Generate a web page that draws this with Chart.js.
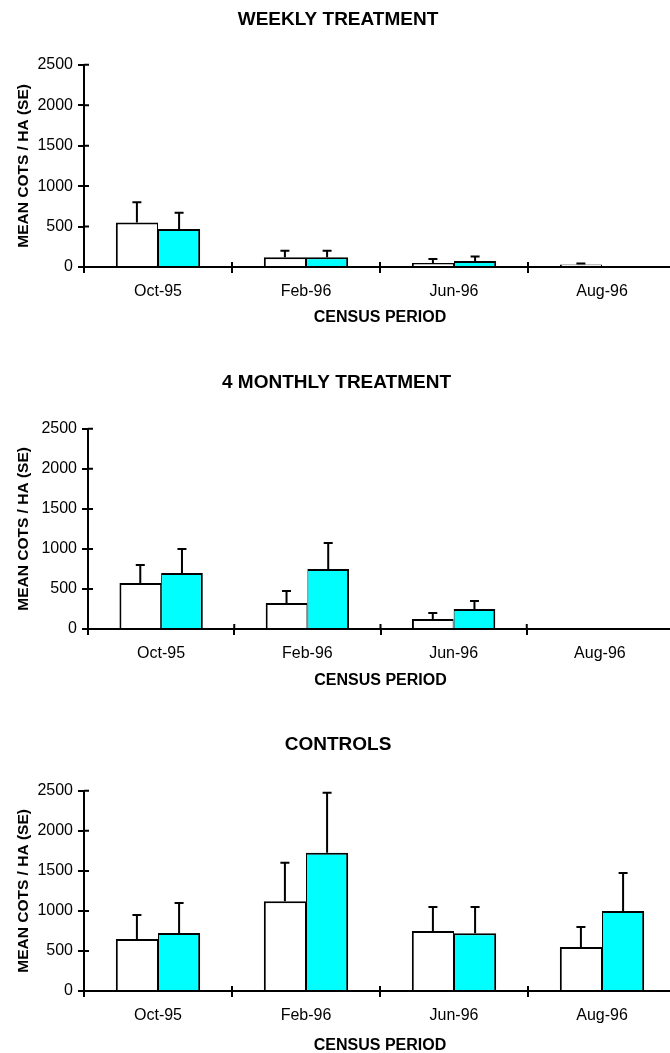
<!DOCTYPE html>
<html>
<head>
<meta charset="utf-8">
<script src="https://cdn.jsdelivr.net/npm/chart.js@4/dist/chart.umd.min.js"></script>
<style>
  html, body { margin: 0; padding: 0; background: #fff; overflow: hidden; width: 670px; height: 1053px; }
  canvas { position: absolute; left: 0; }
</style>
</head>
<body>
<canvas id="weekly"></canvas>
<canvas id="monthly"></canvas>
<canvas id="controls"></canvas>
<script>
// Census periods shared by all three panels
const periods = ['Oct-95', 'Feb-96', 'Jun-96', 'Aug-96'];
const yTicks = [0, 500, 1000, 1500, 2000, 2500];

// Weekly treatment: mean COTS per hectare and standard errors
const weeklyOpen = [550, 120, 50, 30];
const weeklyOpenSE = [250, 80, 50, 12];
const weeklyCyan = [470, 120, 75, null];
const weeklyCyanSE = [200, 80, 55, null];

// 4 monthly treatment
const monthlyOpen = [575, 325, 125, null];
const monthlyOpenSE = [225, 150, 75, null];
const monthlyCyan = [700, 750, 250, null];
const monthlyCyanSE = [300, 325, 100, null];

// Controls
const controlOpen = [650, 1120, 750, 550];
const controlOpenSE = [300, 480, 300, 250];
const controlCyan = [725, 1725, 720, 1000];
const controlCyanSE = [375, 750, 330, 475];

const FONT = "'Liberation Sans', Arial, sans-serif";

// Upward-only standard error whiskers with a short cap
const errorBars = {
  id: 'errorBars',
  afterDatasetsDraw(chart) {
    const ctx = chart.ctx;
    const y = chart.scales.y;
    ctx.save();
    ctx.strokeStyle = '#000';
    ctx.lineWidth = 2;
    chart.data.datasets.forEach((ds, di) => {
      const meta = chart.getDatasetMeta(di);
      meta.data.forEach((bar, i) => {
        const v = ds.data[i], se = ds.se[i];
        if (v == null || se == null) return;
        const top = y.getPixelForValue(v + se);
        ctx.beginPath();
        ctx.moveTo(bar.x, bar.y);
        ctx.lineTo(bar.x, top);
        ctx.moveTo(bar.x - 4.5, top);
        ctx.lineTo(bar.x + 4.5, top);
        ctx.stroke();
      });
    });
    ctx.restore();
  }
};

// Tick marks that cross each axis line (the inner half of every tick)
const innerTicks = {
  id: 'innerTicks',
  afterDraw(chart) {
    const ctx = chart.ctx;
    const x = chart.scales.x, y = chart.scales.y;
    const area = chart.chartArea;
    ctx.save();
    ctx.strokeStyle = '#000';
    ctx.lineWidth = 2;
    ctx.beginPath();
    y.ticks.forEach((t, i) => {
      const py = y.getPixelForTick(i);
      ctx.moveTo(area.left, py);
      ctx.lineTo(area.left + 5, py);
    });
    for (let i = 0; i <= periods.length; i++) {
      const px = x.getPixelForValue(i - 0.5);
      ctx.moveTo(px, area.bottom);
      ctx.lineTo(px, area.bottom - 5);
    }
    ctx.stroke();
    ctx.restore();
  }
};

function panel(id, cfg) {
  const el = document.getElementById(id);
  el.width = cfg.width;
  el.height = cfg.height;
  el.style.width = cfg.width + 'px';
  el.style.height = cfg.height + 'px';
  el.style.top = cfg.top + 'px';
  const barBorder = (left, right) => ({ left, right, top: 2, bottom: 0 });
  return new Chart(el, {
    type: 'bar',
    data: {
      labels: periods,
      datasets: [
        { label: 'Series 1', data: cfg.open, se: cfg.openSE, backgroundColor: '#ffffff',
          borderColor: '#000', borderWidth: barBorder(2, 1), borderSkipped: false },
        { label: 'Series 2', data: cfg.cyan, se: cfg.cyanSE, backgroundColor: '#00ffff',
          borderColor: '#000', borderWidth: barBorder(1, 2), borderSkipped: false }
      ]
    },
    options: {
      responsive: false,
      animation: false,
      devicePixelRatio: 1,
      layout: { padding: 0 },
      datasets: { bar: { categoryPercentage: 0.57, barPercentage: 1 } },
      plugins: {
        legend: { display: false },
        tooltip: { enabled: false },
        title: {
          display: true,
          text: cfg.title,
          color: '#000',
          font: { family: FONT, size: 19, weight: 'bold', lineHeight: 1.2 },
          padding: { top: cfg.titleTop, bottom: cfg.titleBottom }
        }
      },
      scales: {
        x: {
          afterFit(s) { s.height = cfg.xHeight; },
          grid: { display: true, drawOnChartArea: false, color: '#000', lineWidth: 2, tickLength: 6, offset: true },
          border: { display: true, color: '#000', width: 2 },
          ticks: { color: '#000', padding: 9, font: { family: FONT, size: 16 } },
          title: {
            display: true, text: 'CENSUS PERIOD', color: '#000',
            font: { family: FONT, size: 16, weight: 'bold', lineHeight: 1.2 },
            padding: { top: 0, bottom: 0 }
          }
        },
        y: {
          min: 0, max: 2500,
          afterFit(s) { s.width = cfg.yWidth; },
          afterBuildTicks(s) { s.ticks = yTicks.map(v => ({ value: v })); },
          grid: { display: true, drawOnChartArea: false, color: '#000', lineWidth: 2, tickLength: 6 },
          border: { display: true, color: '#000', width: 2 },
          ticks: { color: '#000', padding: 5, font: { family: FONT, size: 16 }, callback: v => String(v) },
          title: {
            display: true, text: 'MEAN COTS / HA (SE)', color: '#000',
            font: { family: FONT, size: 15.5, weight: 'bold', lineHeight: 1.2 },
            padding: { top: 14, bottom: 0 }
          }
        }
      }
    },
    plugins: [errorBars, innerTicks]
  });
}

panel('weekly', {
  title: 'WEEKLY TREATMENT', top: 0, width: 676, height: 327,
  titleTop: 8, titleBottom: 34, xHeight: 60, yWidth: 84,
  open: weeklyOpen, openSE: weeklyOpenSE, cyan: weeklyCyan, cyanSE: weeklyCyanSE
});

panel('monthly', {
  title: '4 MONTHLY TREATMENT', top: 340, width: 673, height: 350,
  titleTop: 31, titleBottom: 35, xHeight: 61, yWidth: 88,
  open: monthlyOpen, openSE: monthlyOpenSE, cyan: monthlyCyan, cyanSE: monthlyCyanSE
});

panel('controls', {
  title: 'CONTROLS', top: 700, width: 676, height: 355,
  titleTop: 33, titleBottom: 35, xHeight: 64, yWidth: 84,
  open: controlOpen, openSE: controlOpenSE, cyan: controlCyan, cyanSE: controlCyanSE
});
</script>
</body>
</html>
